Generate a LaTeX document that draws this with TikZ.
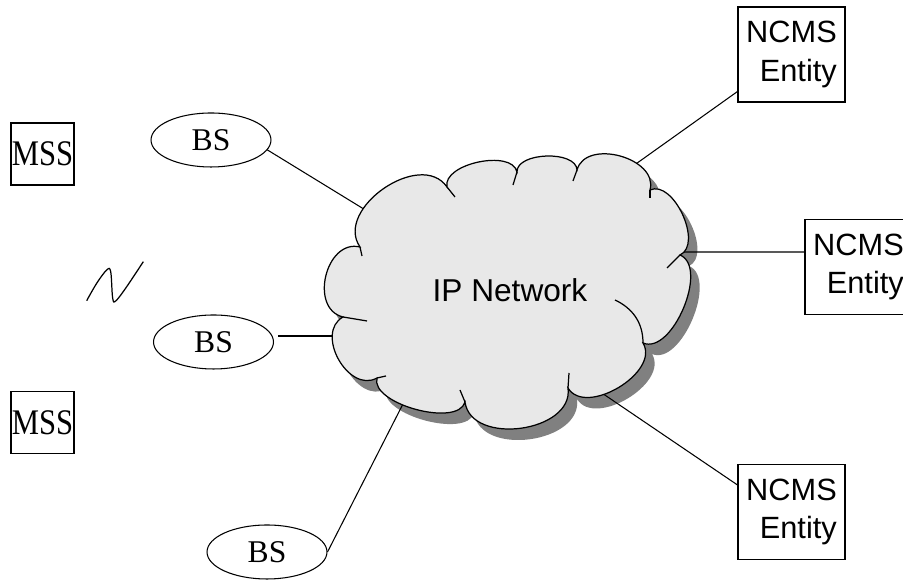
\documentclass[tikz,border=0pt]{standalone}
\usepackage{fontspec}
\setmainfont{Liberation Serif}
\newfontfamily\arialfont{Liberation Sans}
\usepackage{xcolor}
\usetikzlibrary{shapes}

\definecolor{cloudgray}{HTML}{E8E8E8}
\definecolor{shadowgray}{HTML}{808080}

% outline of the network cloud (units of the picture)
\newcommand{\cloudpath}{(360,333)
    to[bend right=90,looseness=1.25] (343,263)
    to[bend right=90,looseness=1.2] (377,202)
    to[bend right=90,looseness=0.75] (465,178)
    to[bend right=90,looseness=1.1] (568,192)
    to[bend right=90,looseness=1.0] (643,237)
    to[bend right=90,looseness=0.85] (680,325)
    to[bend right=90,looseness=0.92] (650,390)
    to[bend right=90,looseness=1.12] (577,410)
    to[bend right=90,looseness=0.85] (517,408)
    to[bend right=90,looseness=0.85] (447,393)
    to[bend right=90,looseness=1.12] (360,333) -- cycle}

\begin{document}
\begin{tikzpicture}[
    x=0.02cm, y=0.02cm,
    line width=0.6pt,
    mss/.style={
        draw,
        rectangle,
        minimum width=1.26cm,
        minimum height=1.24cm,
        inner sep=0pt,
        font=\fontsize{20.5}{24}\selectfont
    },
    bs/.style={
        draw,
        ellipse,
        minimum width=2.4cm,
        minimum height=1.08cm,
        inner sep=0pt,
        font=\fontsize{18}{22}\selectfont
    },
    ncms/.style={
        draw,
        rectangle,
        minimum width=2.14cm,
        minimum height=1.9cm,
        inner sep=0pt,
        align=right,
        font=\arialfont\fontsize{17.5}{22}\selectfont
    }
]
\useasboundingbox (0,0) rectangle (903,580);
\clip (0,0) rectangle (903,580);

% Nodes
\node[mss] (mss1) at (42.5,426) {\scalebox{0.85}[1]{MSS}};
\node[mss] (mss2) at (42.5,157.5) {\scalebox{0.85}[1]{MSS}};

\node[bs] (bs1) at (211,440) {BS};
\node[bs] (bs2) at (213.5,238) {BS};
\node[bs] (bs3) at (267,28) {BS};

\node[ncms] (n1) at (791.5,525.5) {NCMS\\Entity};
\node[ncms] (n2) at (858.5,313) {NCMS\\Entity};
\node[ncms] (n3) at (791.5,68) {NCMS\\Entity};

% radio link
\draw[line width=0.7pt] plot[smooth, tension=0.6] coordinates {(86.7,279.3) (96.7,296.7) (106.7,310) (110.7,308.3) (112.7,281.7) (116,279.3) (126.7,293.3) (143.3,318.3)};

% Cloud
\fill[shadowgray, shift={(9,-11)}] \cloudpath;

\coordinate (c-bs1) at (367,369);
\coordinate (c-bs2) at (337,244);
\coordinate (c-bs3) at (405,180);
\coordinate (c-n1) at (633,414);
\coordinate (c-n2) at (680,328);
\coordinate (c-n3) at (593,193);

% Connections
\draw (bs1.-10) -- (c-bs1);
\draw ([shift={(4,6)}]bs2.east) -- (c-bs2);
\draw (bs3.east) -- (c-bs3);
\draw ([yshift=0.22cm]n1.south west) -- (c-n1);
\draw ([yshift=0.3cm]n2.west) -- (c-n2);
\draw ([yshift=-0.42cm]n3.north west) -- (c-n3);

\draw[fill=cloudgray, line width=0.7pt] \cloudpath;

% folds of the cloud
\draw[line width=0.7pt] (360,333) -- (362,324);
\draw[line width=0.7pt] (343,263) -- (367,259);
\draw[line width=0.7pt] (377,202) -- (386,204);
\draw[line width=0.7pt] (465,178) -- (460,190);
\draw[line width=0.7pt] (568,192) -- (569,207);
\draw[line width=0.7pt] (643,237) .. controls (643,258) and (632,272) .. (615,280);
\draw[line width=0.7pt] (680,325) -- (667,312);
\draw[line width=0.7pt] (650,390) -- (650,382);
\draw[line width=0.7pt] (577,410) -- (573,399);
\draw[line width=0.7pt] (517,408) -- (513,395);
\draw[line width=0.7pt] (447,393) -- (455,383);

\node[font=\arialfont\fontsize{18}{22}\selectfont] (ip) at (510,290) {IP Network};

\end{tikzpicture}
\end{document}
